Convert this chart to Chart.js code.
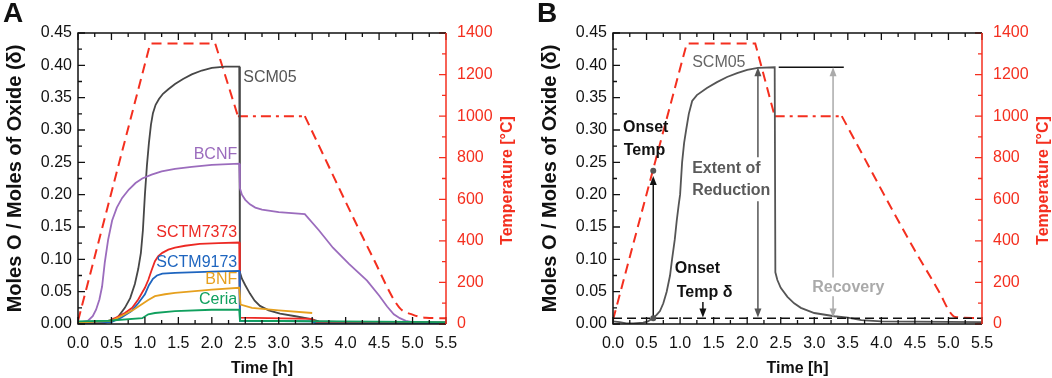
<!DOCTYPE html>
<html>
<head>
<meta charset="utf-8">
<script src="https://cdn.jsdelivr.net/npm/chart.js@4.4.1/dist/chart.umd.min.js"></script>
<style>
  body { margin: 0; background: #fff; }
  #wrap { position: relative; width: 1052px; height: 378px; }
  canvas { position: absolute; top: 0; }
</style>
</head>
<body>
<div id="wrap">
  <canvas id="chartA" width="535" height="378" style="left:0"></canvas>
  <canvas id="chartB" width="517" height="378" style="left:535px"></canvas>
</div>
<script>
// tick values
const timeTicks = [0, 0.5, 1, 1.5, 2, 2.5, 3, 3.5, 4, 4.5, 5, 5.5];
const deltaTicks = [0, 0.05, 0.1, 0.15, 0.2, 0.25, 0.3, 0.35, 0.4, 0.45];
const tempTicks = [0, 200, 400, 600, 800, 1000, 1200, 1400];

// panel A : [time h, delta]
const scm05A = [[0,0.002],[0.4,0.002],[0.5,0.004],[0.6,0.011],[0.7,0.025],[0.78,0.04],[0.85,0.062],[0.9,0.085],[0.94,0.11],[0.97,0.145],[1.0,0.2],[1.03,0.245],[1.06,0.28],[1.09,0.308],[1.12,0.326],[1.16,0.339],[1.21,0.348],[1.27,0.356],[1.35,0.363],[1.45,0.371],[1.57,0.379],[1.7,0.386],[1.85,0.392],[2.0,0.396],[2.2,0.398],[2.41,0.398],[2.42,0.08],[2.45,0.07],[2.5,0.06],[2.57,0.047],[2.64,0.036],[2.72,0.028],[2.85,0.021],[3.02,0.016],[3.25,0.012],[3.47,0.008],[3.6,0.004],[4.0,0.003],[5.5,0.002]];
const bcnfA = [[0,0.002],[0.15,0.005],[0.22,0.012],[0.27,0.022],[0.32,0.038],[0.36,0.058],[0.4,0.095],[0.45,0.13],[0.51,0.16],[0.58,0.18],[0.66,0.195],[0.76,0.208],[0.86,0.218],[0.96,0.225],[1.1,0.231],[1.25,0.236],[1.45,0.24],[1.7,0.243],[2.0,0.246],[2.41,0.248],[2.42,0.21],[2.45,0.2],[2.5,0.192],[2.57,0.185],[2.65,0.18],[2.75,0.177],[3.0,0.173],[3.39,0.17],[3.6,0.145],[3.81,0.118],[4.05,0.093],[4.32,0.067],[4.5,0.044],[4.62,0.027],[4.72,0.015],[4.81,0.009],[4.9,0.005],[5.0,0.003],[5.5,0.002]];
const sctm7373A = [[0,0.001],[0.4,0.002],[0.55,0.009],[0.7,0.017],[0.81,0.025],[0.9,0.038],[1.0,0.056],[1.05,0.068],[1.1,0.083],[1.15,0.097],[1.2,0.105],[1.26,0.11],[1.35,0.115],[1.45,0.118],[1.6,0.121],[1.82,0.124],[2.1,0.125],[2.41,0.126],[2.42,0.01],[3.5,0.008],[3.55,0.003],[5.5,0.002]];
const sctm9173A = [[0,0.001],[0.5,0.003],[0.65,0.01],[0.8,0.02],[0.9,0.032],[1.0,0.046],[1.06,0.06],[1.12,0.07],[1.18,0.075],[1.26,0.078],[1.45,0.079],[2.0,0.081],[2.41,0.082],[2.42,0.005],[3.5,0.004],[3.55,0.001],[5.5,0.0]];
const bnfA = [[0,0.002],[0.5,0.005],[0.7,0.015],[0.83,0.022],[0.96,0.031],[1.05,0.037],[1.15,0.043],[1.3,0.046],[1.45,0.048],[2.0,0.053],[2.41,0.056],[2.43,0.03],[2.6,0.025],[3.0,0.021],[3.5,0.017]];
const ceriaA = [[0,0.004],[0.45,0.005],[0.96,0.009],[1.05,0.015],[1.15,0.017],[1.45,0.02],[2.0,0.022],[2.41,0.022],[2.42,0.005],[5.5,0.003]];
const tempRampA = [[0,15],[1.08,1350],[2.05,1350],[2.39,1000]];
const tempHoldA = [[2.39,1000],[3.39,1000]];
const tempCoolA = [[3.39,1000],[4.41,318],[4.8,80],[5.0,45],[5.2,30],[5.5,28]];

// panel B
const scm05B = [[0,0.004],[0.1,0.003],[0.2,0.001],[0.3,0.001],[0.45,0.002],[0.52,0.004],[0.58,0.008],[0.65,0.014],[0.7,0.02],[0.75,0.032],[0.8,0.05],[0.85,0.075],[0.88,0.1],[0.92,0.13],[0.95,0.16],[0.98,0.185],[1.0,0.2],[1.03,0.25],[1.06,0.28],[1.09,0.3],[1.13,0.325],[1.18,0.345],[1.25,0.354],[1.4,0.365],[1.55,0.374],[1.7,0.382],[1.85,0.388],[2.0,0.393],[2.16,0.396],[2.41,0.397],[2.42,0.08],[2.45,0.068],[2.5,0.056],[2.6,0.042],[2.7,0.032],[2.8,0.025],[3.0,0.017],[3.3,0.012],[3.5,0.01],[3.7,0.006],[4.0,0.004],[5.5,0.003]];
const maxLineB = [[2.47,0.397],[3.44,0.397]];
const onsetLineB = [[0,0.009],[5.5,0.009]];
const tempRampB = [[0,20],[1.1,1350],[2.12,1350],[2.41,1000]];
const tempHoldB = [[2.41,1000],[3.41,1000]];
const tempCoolB = [[3.41,1000],[4.47,370],[4.87,149],[5.02,58],[5.1,34],[5.4,29]];

const FONT = "'Liberation Sans', Arial, Helvetica, sans-serif";
const C = { scm: '#474747', bcnf: '#9b6cbd', s7373: '#ec2924', s9173: '#1e65bf', bnf: '#e6a01e', ceria: '#10a05e', temp: '#f42f1f' };
Chart.defaults.font.family = FONT;

function lineSet(pts, color, extra) {
  return Object.assign({
    data: pts.map(p => ({ x: p[0], y: p[1] })),
    borderColor: color, borderWidth: 1.8, pointRadius: 0, fill: false,
    tension: 0, yAxisID: 'y'
  }, extra || {});
}
function tempSets(ramp, hold, cool) {
  return [
    lineSet(ramp, C.temp, { yAxisID: 'y2', borderDash: [10, 6], borderWidth: 2 }),
    lineSet(hold, C.temp, { yAxisID: 'y2', borderDash: [10, 5, 3, 5], borderWidth: 2 }),
    lineSet(cool, C.temp, { yAxisID: 'y2', borderDash: [10, 6], borderWidth: 2, cubicInterpolationMode: 'monotone' })
  ];
}

function makeScales(y2Width) {
  const setTicks = arr => s => { s.ticks = arr.map(v => ({ value: v })); };
  return {
    x: {
      type: 'linear', min: 0, max: 5.5,
      afterBuildTicks: setTicks(timeTicks),
      afterFit: s => { s.height = 54; },
      grid: { display: false, drawTicks: false }, border: { display: false },
      ticks: { color: '#111', font: { size: 16 }, padding: 10, maxRotation: 0, autoSkip: false, callback: v => v.toFixed(1) },
      title: { display: true, text: 'Time [h]', color: '#111', font: { size: 16, weight: 'bold' }, padding: 0 }
    },
    y: {
      min: 0, max: 0.45,
      afterBuildTicks: setTicks(deltaTicks),
      afterFit: s => { s.width = 78; },
      grid: { display: false, drawTicks: false }, border: { display: false },
      ticks: { color: '#111', font: { size: 16 }, padding: 6, autoSkip: false, callback: v => v.toFixed(2) },
      title: { display: true, text: 'Moles O / Moles of Oxide (δ)', color: '#111', font: { size: 20, weight: 'bold' }, padding: { top: 3, bottom: 0 } }
    },
    y2: {
      position: 'right', min: 0, max: 1400,
      afterBuildTicks: setTicks(tempTicks),
      afterFit: s => { s.width = y2Width; },
      grid: { display: false, drawTicks: false }, border: { display: false },
      ticks: { color: C.temp, font: { size: 16 }, padding: 11, autoSkip: false, callback: v => String(v) }
    }
  };
}

function arrow(ctx, x, ya, yb, color) {
  const dir = yb > ya ? 1 : -1;
  ctx.strokeStyle = color; ctx.fillStyle = color; ctx.lineWidth = 1.5;
  ctx.beginPath(); ctx.moveTo(x, ya); ctx.lineTo(x, yb - dir * 7); ctx.stroke();
  ctx.beginPath(); ctx.moveTo(x, yb); ctx.lineTo(x - 3.5, yb - dir * 9); ctx.lineTo(x + 3.5, yb - dir * 9); ctx.closePath(); ctx.fill();
}

const decor = {
  id: 'decor',
  afterDatasetsDraw(chart, args, o) {
    const { ctx, chartArea: a, scales: { x, y, y2 } } = chart;
    ctx.save();
    // ticks
    ctx.lineWidth = 1.3;
    ctx.strokeStyle = '#111';
    ctx.beginPath();
    for (let i = 0; i <= 22; i++) {
      const px = x.getPixelForValue(i * 0.25), len = i % 2 ? 4 : 7;
      ctx.moveTo(px, a.bottom); ctx.lineTo(px, a.bottom - len);
      ctx.moveTo(px, a.top); ctx.lineTo(px, a.top + len);
    }
    for (let i = 0; i <= 18; i++) {
      const py = y.getPixelForValue(i * 0.025), len = i % 2 ? 4 : 7;
      ctx.moveTo(a.left, py); ctx.lineTo(a.left + len, py);
    }
    ctx.stroke();
    ctx.strokeStyle = C.temp;
    ctx.beginPath();
    for (let i = 0; i <= 14; i++) {
      const py = y2.getPixelForValue(i * 100), len = i % 2 ? 4 : 7;
      ctx.moveTo(a.right, py); ctx.lineTo(a.right - len, py);
    }
    ctx.stroke();
    // frame
    ctx.lineWidth = 1.5;
    ctx.strokeStyle = '#111';
    ctx.beginPath();
    ctx.moveTo(a.right, a.top); ctx.lineTo(a.left, a.top); ctx.lineTo(a.left, a.bottom); ctx.lineTo(a.right, a.bottom);
    ctx.stroke();
    ctx.strokeStyle = C.temp;
    ctx.beginPath(); ctx.moveTo(a.right, a.top); ctx.lineTo(a.right, a.bottom); ctx.stroke();

    // right axis title (reads bottom to top)
    ctx.save();
    ctx.translate(a.right + 62, (a.top + a.bottom) / 2 + 2);
    ctx.rotate(-Math.PI / 2);
    ctx.fillStyle = C.temp; ctx.font = 'bold 16px ' + FONT;
    ctx.textAlign = 'center'; ctx.textBaseline = 'middle';
    ctx.fillText('Temperature [°C]', 0, 0);
    ctx.restore();

    // panel letter
    ctx.fillStyle = '#111'; ctx.font = 'bold 28px ' + FONT;
    ctx.textAlign = 'left'; ctx.textBaseline = 'alphabetic';
    ctx.fillText(o.letter, o.letterX, 22);

    // arrows and dots
    (o.arrows || []).forEach(r => arrow(ctx, x.getPixelForValue(r.t), y.getPixelForValue(r.from), y.getPixelForValue(r.to), r.color));
    (o.dots || []).forEach(d => {
      ctx.fillStyle = '#555';
      ctx.beginPath(); ctx.arc(x.getPixelForValue(d[0]), y.getPixelForValue(d[1]), 3, 0, Math.PI * 2); ctx.fill();
    });
    // labels
    ctx.textBaseline = 'middle';
    (o.notes || []).forEach(n => {
      ctx.fillStyle = n.color;
      ctx.font = (n.bold ? 'bold ' : '') + '16px ' + FONT;
      ctx.textAlign = n.align || 'left';
      ctx.fillText(n.text, x.getPixelForValue(n.t), y.getPixelForValue(n.d));
    });
    ctx.restore();
  }
};

function makeChart(id, datasets, y2Width, deco) {
  return new Chart(document.getElementById(id), {
    type: 'line',
    data: { datasets },
    options: {
      responsive: false, animation: false, devicePixelRatio: 1,
      layout: { padding: { top: 33, left: 0, right: 0, bottom: 0 } },
      scales: makeScales(y2Width),
      plugins: { legend: { display: false }, tooltip: { enabled: false }, decor: deco }
    },
    plugins: [decor]
  });
}

makeChart('chartA', [
  lineSet(ceriaA, C.ceria),
  lineSet(bnfA, C.bnf),
  lineSet(sctm9173A, C.s9173),
  lineSet(sctm7373A, C.s7373),
  lineSet(bcnfA, C.bcnf),
  lineSet(scm05A, C.scm),
  ...tempSets(tempRampA, tempHoldA, tempCoolA)
], 89, {
  letter: 'A', letterX: 3,
  notes: [
    { text: 'SCM05', t: 2.47, d: 0.381, color: '#555' },
    { text: 'BCNF', t: 2.38, d: 0.262, color: C.bcnf, align: 'right' },
    { text: 'SCTM7373', t: 2.38, d: 0.141, color: C.s7373, align: 'right' },
    { text: 'SCTM9173', t: 2.38, d: 0.095, color: C.s9173, align: 'right' },
    { text: 'BNF', t: 2.38, d: 0.068, color: C.bnf, align: 'right' },
    { text: 'Ceria', t: 2.38, d: 0.037, color: C.ceria, align: 'right' }
  ]
});

makeChart('chartB', [
  lineSet(onsetLineB, '#111', { borderDash: [9, 5], borderWidth: 1.5 }),
  lineSet(scm05B, '#555'),
  lineSet(maxLineB, '#111', { borderWidth: 1.5 }),
  ...tempSets(tempRampB, tempHoldB, tempCoolB)
], 70, {
  letter: 'B', letterX: 2,
  arrows: [
    { t: 0.6, from: 0.009, to: 0.229, color: '#111' },
    { t: 1.34, from: 0.034, to: 0.01, color: '#111' },
    { t: 2.16, from: 0.258, to: 0.397, color: '#555' },
    { t: 2.16, from: 0.19, to: 0.01, color: '#555' },
    { t: 3.28, from: 0.072, to: 0.397, color: '#aaa' },
    { t: 3.28, from: 0.043, to: 0.01, color: '#aaa' }
  ],
  dots: [[0.6, 0.009], [0.6, 0.237]],
  notes: [
    { text: 'SCM05', t: 1.18, d: 0.405, color: '#666' },
    { text: 'Onset', t: 0.15, d: 0.303, color: '#111', bold: true },
    { text: 'Temp', t: 0.16, d: 0.268, color: '#111', bold: true },
    { text: 'Onset', t: 0.92, d: 0.085, color: '#111', bold: true },
    { text: 'Temp δ', t: 0.95, d: 0.049, color: '#111', bold: true },
    { text: 'Extent of', t: 1.18, d: 0.241, color: '#5a5a5a', bold: true },
    { text: 'Reduction', t: 1.18, d: 0.206, color: '#5a5a5a', bold: true },
    { text: 'Recovery', t: 2.97, d: 0.056, color: '#aaa', bold: true }
  ]
});
</script>
</body>
</html>
